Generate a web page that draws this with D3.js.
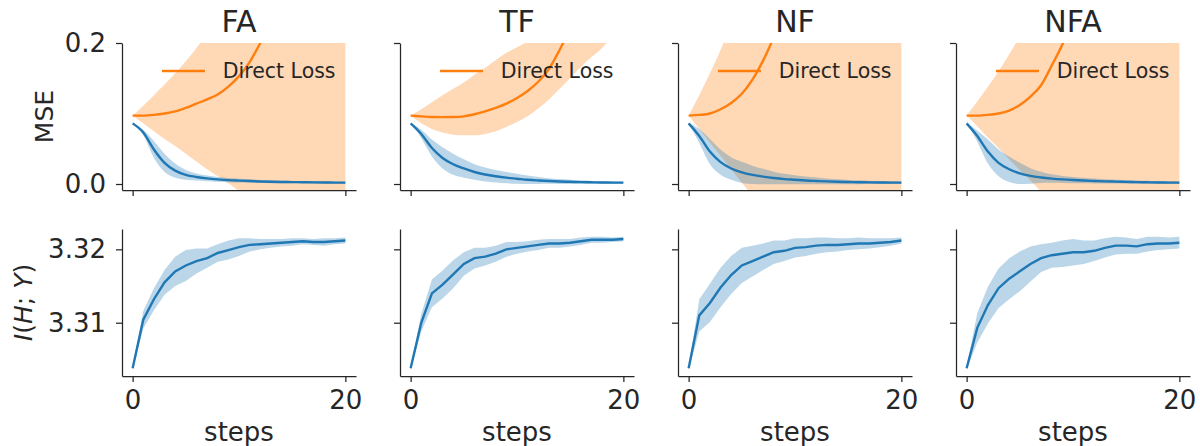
<!DOCTYPE html>
<html>
<head>
<meta charset="utf-8">
<script src="https://cdn.jsdelivr.net/npm/d3@7"></script>
<style>
  body { margin: 0; background: #fff; }
  svg { display: block; font-family: "DejaVu Sans", sans-serif; }
</style>
</head>
<body>
<svg id="chart" width="1200" height="446"></svg>
<script>
// panels, left to right
const methods = ['FA', 'TF', 'NF', 'NFA'];
const steps = [0, 1, 2, 3, 4, 5, 6, 7, 8, 9, 10, 11, 12, 13, 14, 15, 16, 17, 18, 19, 20];
const xTicks = [0, 20];
const mseTicks = [0.0, 0.2];
const infoTicks = [3.31, 3.32];

// top row: MSE of the method (blue), mean and spread
const blueMseMean = [
  [0.086, 0.073, 0.049, 0.030, 0.019, 0.013, 0.010, 0.008, 0.0066, 0.0055, 0.0048, 0.0042, 0.0036, 0.0032, 0.0029, 0.0027, 0.0025, 0.0023, 0.0021, 0.002, 0.0019],
  [0.086, 0.071, 0.051, 0.037, 0.028, 0.022, 0.017, 0.0135, 0.011, 0.009, 0.0075, 0.006, 0.005, 0.0042, 0.0036, 0.0031, 0.0027, 0.0024, 0.0022, 0.002, 0.0019],
  [0.086, 0.068, 0.046, 0.031, 0.022, 0.0165, 0.013, 0.0105, 0.0085, 0.007, 0.006, 0.005, 0.0043, 0.0037, 0.0032, 0.0028, 0.0025, 0.0023, 0.0021, 0.002, 0.0019],
  [0.086, 0.068, 0.046, 0.030, 0.021, 0.015, 0.0115, 0.0093, 0.0077, 0.0065, 0.0056, 0.0049, 0.0043, 0.0038, 0.0034, 0.003, 0.0027, 0.0024, 0.0022, 0.002, 0.0019]
];
const blueMseSd = [
  [0, 0.004, 0.012, 0.013, 0.010, 0.007, 0.005, 0.004, 0.0035, 0.003, 0.0028, 0.0025, 0.0022, 0.002, 0.0018, 0.0017, 0.0016, 0.0015, 0.0014, 0.0013, 0.0012],
  [0, 0.006, 0.012, 0.015, 0.015, 0.013, 0.011, 0.010, 0.009, 0.008, 0.007, 0.006, 0.005, 0.004, 0.0035, 0.003, 0.0025, 0.002, 0.0018, 0.0015, 0.0012],
  [0, 0.010, 0.018, 0.018, 0.016, 0.015, 0.013, 0.011, 0.009, 0.0075, 0.0065, 0.0055, 0.0048, 0.004, 0.0035, 0.003, 0.0027, 0.0024, 0.0021, 0.0019, 0.0017],
  [0, 0.008, 0.017, 0.019, 0.018, 0.015, 0.011, 0.008, 0.006, 0.005, 0.0045, 0.004, 0.0035, 0.003, 0.0028, 0.0026, 0.0024, 0.0022, 0.002, 0.0018, 0.0016]
];

// top row: Direct Loss (orange), mean with lower / upper band edges
const directMean = [
  [0.097, 0.097, 0.098, 0.100, 0.103, 0.108, 0.114, 0.120, 0.127, 0.138, 0.153, 0.173, 0.200, 0.230, 0.265, 0.300, 0.340, 0.390, 0.440, 0.500, 0.560],
  [0.097, 0.096, 0.095, 0.0948, 0.095, 0.096, 0.099, 0.103, 0.108, 0.114, 0.122, 0.132, 0.145, 0.163, 0.190, 0.220, 0.250, 0.285, 0.320, 0.360, 0.400],
  [0.097, 0.098, 0.100, 0.106, 0.115, 0.128, 0.148, 0.175, 0.208, 0.245, 0.290, 0.340, 0.390, 0.450, 0.510, 0.570, 0.640, 0.710, 0.780, 0.860, 0.940],
  [0.097, 0.097, 0.098, 0.100, 0.104, 0.112, 0.124, 0.140, 0.168, 0.198, 0.235, 0.280, 0.330, 0.380, 0.440, 0.500, 0.570, 0.640, 0.720, 0.800, 0.880]
];
const directLo = [
  [0.097, 0.086, 0.075, 0.064, 0.054, 0.043, 0.032, 0.021, 0.011, 0.001, -0.010, -0.020, -0.030, -0.040, -0.050, -0.060, -0.070, -0.080, -0.090, -0.100, -0.110],
  [0.097, 0.086, 0.078, 0.073, 0.070, 0.069, 0.069, 0.071, 0.075, 0.081, 0.088, 0.096, 0.107, 0.120, 0.135, 0.150, 0.166, 0.180, 0.193, 0.210, 0.230],
  [0.097, 0.078, 0.059, 0.040, 0.021, 0.002, -0.017, -0.036, -0.055, -0.075, -0.095, -0.115, -0.135, -0.155, -0.175, -0.195, -0.215, -0.235, -0.255, -0.275, -0.295],
  [0.097, 0.082, 0.066, 0.051, 0.035, 0.020, 0.005, -0.011, -0.026, -0.042, -0.058, -0.074, -0.090, -0.106, -0.122, -0.138, -0.154, -0.170, -0.186, -0.202, -0.218]
];
const directHi = [
  [0.097, 0.111, 0.126, 0.141, 0.157, 0.174, 0.193, 0.214, 0.240, 0.270, 0.305, 0.345, 0.390, 0.440, 0.490, 0.540, 0.600, 0.660, 0.720, 0.780, 0.840],
  [0.097, 0.106, 0.116, 0.126, 0.135, 0.144, 0.155, 0.165, 0.176, 0.186, 0.194, 0.203, 0.220, 0.245, 0.275, 0.310, 0.345, 0.385, 0.430, 0.475, 0.520],
  [0.097, 0.126, 0.157, 0.190, 0.230, 0.280, 0.330, 0.390, 0.450, 0.510, 0.580, 0.650, 0.720, 0.800, 0.880, 0.960, 1.040, 1.120, 1.200, 1.280, 1.360],
  [0.097, 0.117, 0.138, 0.160, 0.184, 0.210, 0.240, 0.270, 0.310, 0.350, 0.400, 0.450, 0.500, 0.560, 0.620, 0.680, 0.750, 0.820, 0.890, 0.960, 1.030]
];

// bottom row: I(H; Y), mean and spread
const infoMean = [
  [3.3038, 3.3104, 3.3132, 3.3155, 3.3170, 3.3178, 3.3184, 3.3188, 3.3195, 3.3199, 3.3203, 3.3206, 3.3207, 3.3208, 3.3209, 3.3210, 3.3211, 3.3210, 3.3210, 3.3211, 3.3212],
  [3.3038, 3.3100, 3.3140, 3.3152, 3.3166, 3.3180, 3.3188, 3.3190, 3.3194, 3.3200, 3.3202, 3.3204, 3.3206, 3.3208, 3.3208, 3.3209, 3.3211, 3.3213, 3.3213, 3.3213, 3.3214],
  [3.3038, 3.3110, 3.3127, 3.3148, 3.3165, 3.3178, 3.3184, 3.3190, 3.3196, 3.3198, 3.3202, 3.3203, 3.3205, 3.3206, 3.3206, 3.3207, 3.3208, 3.3208, 3.3209, 3.3210, 3.3212],
  [3.3038, 3.3093, 3.3124, 3.3147, 3.3160, 3.3170, 3.3180, 3.3188, 3.3192, 3.3194, 3.3196, 3.3196, 3.3198, 3.3202, 3.3205, 3.3205, 3.3204, 3.3207, 3.3208, 3.3208, 3.3209]
];
const infoSd = [
  [0.0002, 0.0012, 0.0015, 0.0017, 0.0020, 0.0021, 0.0017, 0.0013, 0.0012, 0.0013, 0.0012, 0.0009, 0.0007, 0.0006, 0.0005, 0.0005, 0.0004, 0.0004, 0.0005, 0.0004, 0.0004],
  [0.0002, 0.0012, 0.0019, 0.0019, 0.0019, 0.0016, 0.0014, 0.0012, 0.0011, 0.0010, 0.0008, 0.0007, 0.0007, 0.0006, 0.0006, 0.0005, 0.0005, 0.0004, 0.0004, 0.0003, 0.0003],
  [0.0002, 0.0022, 0.0026, 0.0027, 0.0026, 0.0024, 0.0021, 0.0018, 0.0016, 0.0014, 0.0013, 0.0012, 0.0011, 0.0010, 0.0009, 0.0008, 0.0008, 0.0007, 0.0006, 0.0005, 0.0004],
  [0.0002, 0.0020, 0.0025, 0.0027, 0.0028, 0.0027, 0.0024, 0.0019, 0.0017, 0.0018, 0.0018, 0.0016, 0.0014, 0.0013, 0.0012, 0.0011, 0.0010, 0.0010, 0.0009, 0.0008, 0.0008]
];

const blue = '#1f77b4';
const orange = '#ff7f0e';
const ink = '#262626';

const svg = d3.select('#chart');
const panelLeft = [122, 400, 678, 956];
const width = 234, height = 147;
const topRowY = 43, bottomRowY = 229;

const x = d3.scaleLinear().domain([-1, 21]).range([0, width]);
const yMse = d3.scaleLinear().domain([-0.0085, 0.2]).range([height, 0]);
const yInfo = d3.scaleLinear().domain([3.30274, 3.32277]).range([height, 0]);

function styleAxis(g) {
  g.attr('font-size', null).attr('font-family', null);
  g.select('.domain').attr('stroke', ink).attr('stroke-width', 1.25);
  g.selectAll('.tick line').attr('stroke', ink).attr('stroke-width', 1.25);
  g.selectAll('.tick text').attr('fill', ink).attr('font-size', 26);
}

function band(y, lo, hi, curve) {
  return d3.area()
    .curve(curve)
    .x((d, i) => x(steps[i]))
    .y0((d, i) => y(lo[i]))
    .y1((d, i) => y(hi[i]))(steps);
}
function line(y, vals, curve) {
  return d3.line().curve(curve).x((d, i) => x(steps[i])).y((d, i) => y(vals[i]))(steps);
}

methods.forEach((name, p) => {
  // ---- top row ----
  const gt = svg.append('g').attr('transform', `translate(${panelLeft[p]},${topRowY})`);
  gt.append('clipPath').attr('id', 'clip' + p)
    .append('rect').attr('width', width).attr('height', height);
  const plot = gt.append('g').attr('clip-path', `url(#clip${p})`);
  const smooth = d3.curveMonotoneX;

  plot.append('path')
    .attr('d', band(yMse, directLo[p], directHi[p], smooth))
    .attr('fill', orange).attr('fill-opacity', 0.3);
  plot.append('path')
    .attr('d', line(yMse, directMean[p], smooth))
    .attr('fill', 'none').attr('stroke', orange).attr('stroke-width', 2.4);

  const bLo = blueMseMean[p].map((m, i) => m - blueMseSd[p][i]);
  const bHi = blueMseMean[p].map((m, i) => m + blueMseSd[p][i]);
  plot.append('path')
    .attr('d', band(yMse, bLo, bHi, smooth))
    .attr('fill', blue).attr('fill-opacity', 0.3);
  plot.append('path')
    .attr('d', line(yMse, blueMseMean[p], smooth))
    .attr('fill', 'none').attr('stroke', blue).attr('stroke-width', 2.4);

  gt.append('g')
    .call(d3.axisLeft(yMse).tickValues(mseTicks).tickSize(6).tickSizeOuter(0).tickPadding(10)
      .tickFormat(p === 0 ? d3.format('.1f') : ''))
    .call(styleAxis);
  gt.append('g')
    .attr('transform', `translate(0,${height})`)
    .call(d3.axisBottom(x).tickValues(xTicks).tickSize(6).tickSizeOuter(0).tickFormat(''))
    .call(styleAxis);

  // legend (no frame)
  gt.append('line')
    .attr('x1', 40).attr('x2', 83).attr('y1', 28).attr('y2', 28)
    .attr('stroke', orange).attr('stroke-width', 2.4);
  gt.append('text')
    .attr('x', 100.7).attr('y', 35.3)
    .attr('font-size', 20.5).attr('fill', ink)
    .text('Direct Loss');

  // title
  svg.append('text')
    .attr('x', panelLeft[p] + width / 2).attr('y', 32)
    .attr('text-anchor', 'middle').attr('font-size', 30).attr('fill', ink)
    .text(name);

  // ---- bottom row ----
  const gb = svg.append('g').attr('transform', `translate(${panelLeft[p]},${bottomRowY})`);
  const iLo = infoMean[p].map((m, i) => m - infoSd[p][i]);
  const iHi = infoMean[p].map((m, i) => m + infoSd[p][i]);
  gb.append('path')
    .attr('d', band(yInfo, iLo, iHi, d3.curveLinear))
    .attr('fill', blue).attr('fill-opacity', 0.3);
  gb.append('path')
    .attr('d', line(yInfo, infoMean[p], d3.curveLinear))
    .attr('fill', 'none').attr('stroke', blue).attr('stroke-width', 2.4);

  gb.append('g')
    .call(d3.axisLeft(yInfo).tickValues(infoTicks).tickSize(6).tickSizeOuter(0).tickPadding(10)
      .tickFormat(p === 0 ? d3.format('.2f') : ''))
    .call(styleAxis);
  gb.append('g')
    .attr('transform', `translate(0,${height})`)
    .call(d3.axisBottom(x).tickValues(xTicks).tickSize(6).tickSizeOuter(0).tickPadding(9))
    .call(styleAxis);

  svg.append('text')
    .attr('x', panelLeft[p] + width / 2).attr('y', 441)
    .attr('text-anchor', 'middle').attr('font-size', 26).attr('fill', ink)
    .text('steps');
});

// y labels
svg.append('text')
  .attr('transform', 'translate(53,116.5) rotate(-90)')
  .attr('text-anchor', 'middle').attr('font-size', 25).attr('fill', ink)
  .text('MSE');

const infoLabel = svg.append('text')
  .attr('transform', 'translate(32,302.5) rotate(-90)')
  .attr('text-anchor', 'middle').attr('font-size', 25).attr('fill', ink);
infoLabel.append('tspan').attr('font-style', 'italic').text('I');
infoLabel.append('tspan').text('(');
infoLabel.append('tspan').attr('font-style', 'italic').text('H');
infoLabel.append('tspan').text('; ');
infoLabel.append('tspan').attr('font-style', 'italic').text('Y');
infoLabel.append('tspan').text(')');
</script>
</body>
</html>
